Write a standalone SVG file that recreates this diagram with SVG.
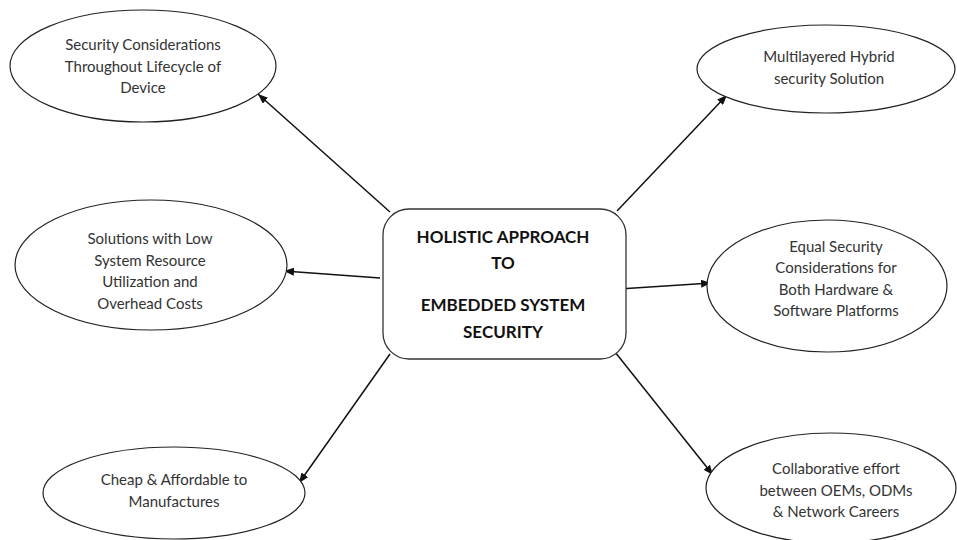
<svg xmlns="http://www.w3.org/2000/svg" width="957" height="540" viewBox="0 0 957 540">
<style>
.ell{fill:#fff;stroke:#222;stroke-width:1.2}
.box{fill:#fff;stroke:#333;stroke-width:1.3}
.t{font-family:Lato,"Liberation Sans",sans-serif;font-size:15px;fill:#333;text-anchor:middle}
.b{font-family:Lato,"Liberation Sans",sans-serif;font-size:17px;font-weight:bold;fill:#111;text-anchor:middle}
.c{stroke:#111;stroke-width:1.5;fill:none;marker-end:url(#ah)}
</style>
<defs>
<marker id="ah" viewBox="0 0 10 8" refX="10" refY="4" markerWidth="10" markerHeight="8" markerUnits="userSpaceOnUse" orient="auto">
<path d="M0,0 L10,4 L0,8 Z" fill="#111"/>
</marker>
</defs>
<rect width="957" height="540" fill="#fff"/>
<g id="connectors">
<line class="c" x1="390" y1="212" x2="258" y2="94"/>
<line class="c" x1="617" y1="211" x2="727" y2="95"/>
<line class="c" x1="380" y1="278" x2="284" y2="271"/>
<line class="c" x1="619" y1="289" x2="711" y2="283"/>
<line class="c" x1="390" y1="354" x2="299" y2="483"/>
<line class="c" x1="615" y1="352" x2="713" y2="475"/>
</g>
<g id="center">
<rect class="box" x="383" y="209" width="243" height="150" rx="26" ry="26"/>
<text class="b" x="503" y="243">HOLISTIC APPROACH</text>
<text class="b" x="503" y="269">TO</text>
<text class="b" x="503" y="311">EMBEDDED SYSTEM</text>
<text class="b" x="503" y="338">SECURITY</text>
</g>
<g id="n1">
<ellipse class="ell" cx="143" cy="66" rx="133" ry="56"/>
<text class="t" x="143" y="50">Security Considerations</text>
<text class="t" x="143" y="72">Throughout Lifecycle of</text>
<text class="t" x="143" y="93">Device</text>
</g>
<g id="n2">
<ellipse class="ell" cx="826" cy="69" rx="129" ry="44"/>
<text class="t" x="829" y="62">Multilayered Hybrid</text>
<text class="t" x="829" y="84">security Solution</text>
</g>
<g id="n3">
<ellipse class="ell" cx="151" cy="265" rx="136" ry="65"/>
<text class="t" x="150" y="244">Solutions with Low</text>
<text class="t" x="150" y="266">System Resource</text>
<text class="t" x="150" y="287">Utilization and</text>
<text class="t" x="150" y="309">Overhead Costs</text>
</g>
<g id="n4">
<ellipse class="ell" cx="827" cy="286" rx="120" ry="66"/>
<text class="t" x="836" y="252">Equal Security</text>
<text class="t" x="836" y="273">Considerations for</text>
<text class="t" x="836" y="295">Both Hardware &amp;</text>
<text class="t" x="836" y="316">Software Platforms</text>
</g>
<g id="n5">
<ellipse class="ell" cx="174" cy="493" rx="131" ry="46"/>
<text class="t" x="174" y="485">Cheap &amp; Affordable to</text>
<text class="t" x="174" y="507">Manufactures</text>
</g>
<g id="n6">
<ellipse class="ell" cx="831" cy="488" rx="125" ry="55"/>
<text class="t" x="836" y="474">Collaborative effort</text>
<text class="t" x="836" y="496">between OEMs, ODMs</text>
<text class="t" x="836" y="517">&amp; Network Careers</text>
</g>
</svg>
